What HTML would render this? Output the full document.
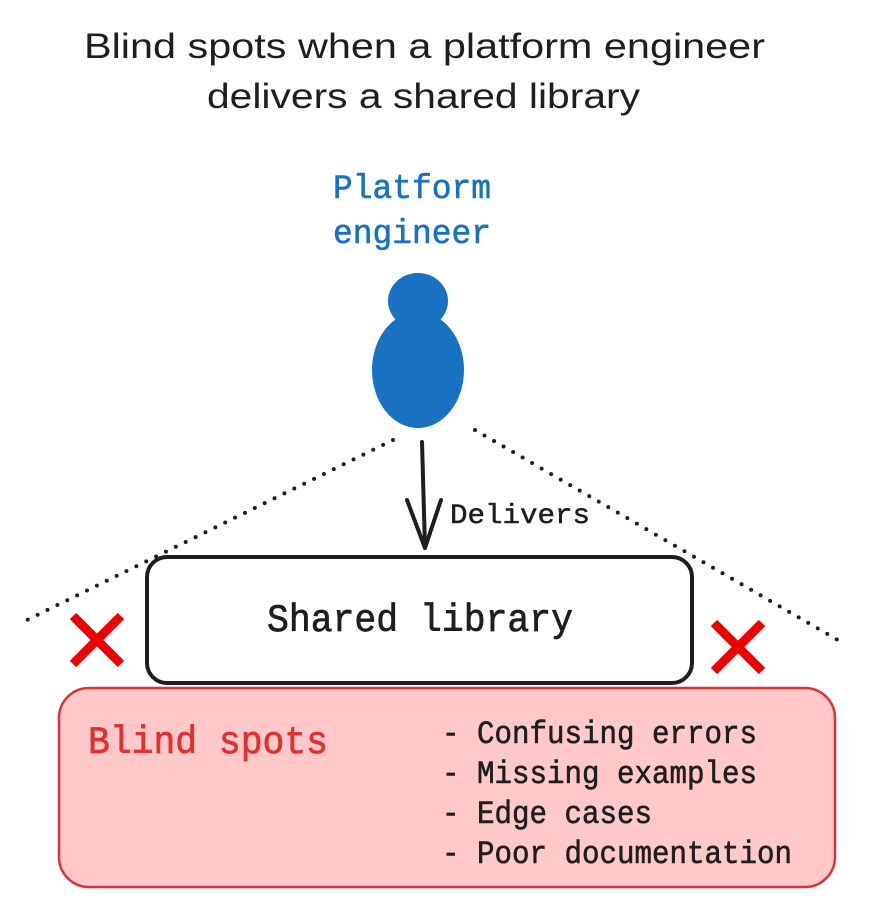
<!DOCTYPE html>
<html><head><meta charset="utf-8"><style>
html,body{margin:0;padding:0;background:#fff;}
svg{display:block;}
.t{font-family:"Liberation Sans",sans-serif;font-size:35px;fill:#1e1e1e;}
.m{font-family:"Liberation Mono",monospace;}
</style></head><body>
<svg width="869" height="908" viewBox="0 0 869 908" xmlns="http://www.w3.org/2000/svg">
<text class="t" x="84" y="58" textLength="681" lengthAdjust="spacingAndGlyphs">Blind spots when a platform engineer</text>
<text class="t" x="207" y="108" textLength="433" lengthAdjust="spacingAndGlyphs">delivers a shared library</text>
<g stroke-width="0.6">
<text class="m" x="333" y="198" font-size="34" fill="#1971c2" stroke="#1971c2" textLength="158" lengthAdjust="spacingAndGlyphs">Platform</text>
<text class="m" x="333" y="243" font-size="34" fill="#1971c2" stroke="#1971c2" textLength="158" lengthAdjust="spacingAndGlyphs">engineer</text>
</g>
<ellipse cx="418" cy="301" rx="30" ry="28" fill="#1971c2"/>
<ellipse cx="418" cy="370" rx="46" ry="58" fill="#1971c2"/>
<line x1="393" y1="440" x2="27" y2="620" stroke="#1e1e1e" stroke-width="4" stroke-dasharray="0 11" stroke-linecap="round"/>
<line x1="475" y1="430" x2="843" y2="643" stroke="#1e1e1e" stroke-width="4" stroke-dasharray="0 11" stroke-linecap="round"/>
<path d="M422 442 L425 548 M407 500 L425 548 L441 500" stroke="#1e1e1e" stroke-width="4" fill="none" stroke-linecap="round" stroke-linejoin="round"/>
<text class="m" x="450" y="523" font-size="28" fill="#1e1e1e" stroke="#1e1e1e" stroke-width="0.5" textLength="140" lengthAdjust="spacingAndGlyphs">Delivers</text>
<rect x="147" y="557" width="545" height="126" rx="20" fill="#fff" stroke="#1e1e1e" stroke-width="4"/>
<text class="m" x="267" y="631" font-size="39" fill="#1e1e1e" stroke="#1e1e1e" stroke-width="0.7" textLength="306" lengthAdjust="spacingAndGlyphs">Shared library</text>
<path d="M73 616 L121 664 M121 616 L73 664" stroke="#e00" stroke-width="9"/>
<path d="M714 623 L762 671 M762 623 L714 671" stroke="#e00" stroke-width="9"/>
<rect x="59" y="688" width="776" height="199" rx="30" fill="#ffc9c9" stroke="#e03131" stroke-width="2.5"/>
<text class="m" x="88" y="753" font-size="39" fill="#e03131" stroke="#e03131" stroke-width="0.7" textLength="240" lengthAdjust="spacingAndGlyphs">Blind spots</text>
<g class="m" font-size="32" fill="#1e1e1e" stroke="#1e1e1e" stroke-width="0.6">
<text x="442" y="743" textLength="315" lengthAdjust="spacingAndGlyphs">- Confusing errors</text>
<text x="442" y="783" textLength="315" lengthAdjust="spacingAndGlyphs">- Missing examples</text>
<text x="442" y="823" textLength="210" lengthAdjust="spacingAndGlyphs">- Edge cases</text>
<text x="442" y="863" textLength="350" lengthAdjust="spacingAndGlyphs">- Poor documentation</text>
</g>
</svg>
</body></html>
